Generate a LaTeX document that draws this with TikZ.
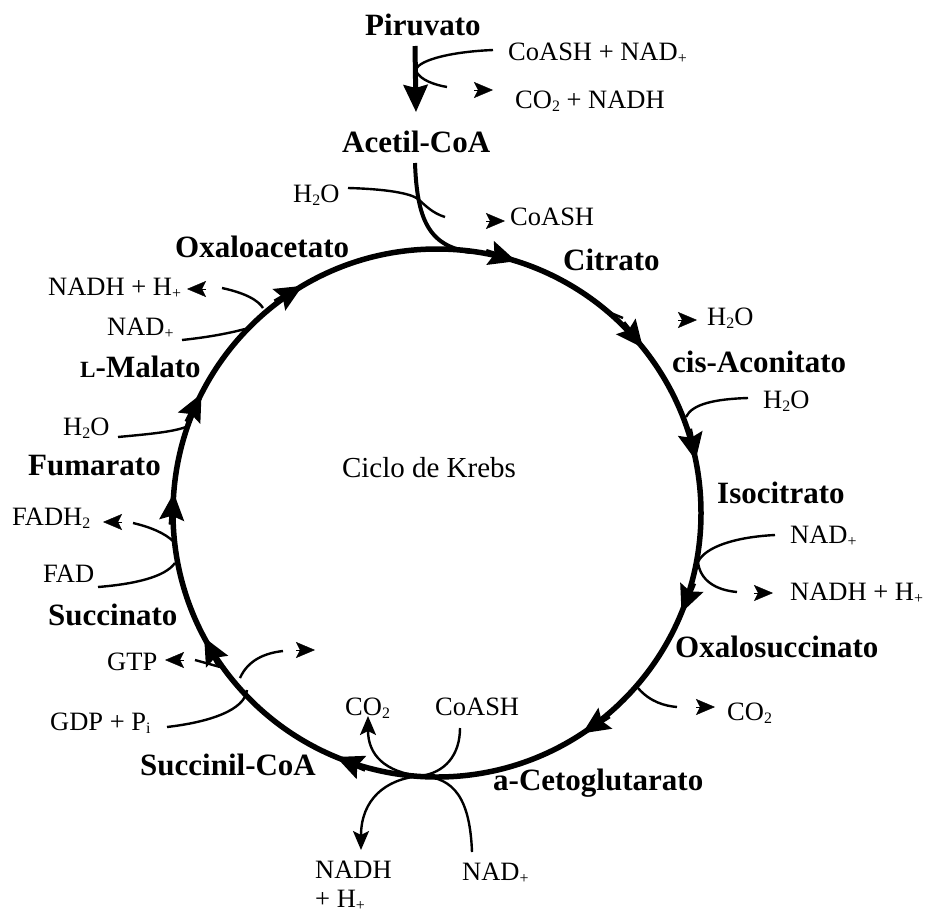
\documentclass[tikz,border=0pt]{standalone}
\usepackage{fontspec}
\setmainfont{Liberation Serif}
\usetikzlibrary{arrows.meta,calc}
\newcommand\lw[1]{\raisebox{-0.12em}{\scalebox{0.6}{#1}}}
\begin{document}
\begin{tikzpicture}[x=1pt,y=-1pt,
  bold/.style={font=\fontsize{31}{31}\selectfont\bfseries, inner sep=0pt, anchor=base west},
  reg/.style={font=\fontsize{26.5}{26.5}\selectfont, inner sep=0pt, anchor=base west},
  cyc/.style={line width=5.5pt},
  side/.style={line width=2.4pt},
  bigtip/.style={-{Stealth[length=27pt,width=24pt,inset=4pt]}},
  smalltip/.style={-{Stealth[length=19pt,width=16pt,inset=4pt]}},
]
\useasboundingbox (0,0) rectangle (926,913);

% metabolites
\node[bold] (pir)  at (365,35)  {Piruvato};
\node[bold] (ace)  at (342,152) {Acetil-CoA};
\node[bold] (oxa)  at (175,257) {Oxaloacetato};
\node[bold] (cit)  at (563,270) {Citrato};
\node[bold] (cis)  at (672,372) {cis-Aconitato};
\node[bold] (iso)  at (717,503) {Isocitrato};
\node[bold] (oxs)  at (675,657) {Oxalosuccinato};
\node[bold] (akg)  at (493,790) {a-Cetoglutarato};
\node[bold] (scoa) at (140,775) {Succinil-CoA};
\node[bold] (suc)  at (48,625)  {Succinato};
\node[bold] (fum)  at (28,475)  {Fumarato};
\node[bold] (mal)  at (80,377)  {\scalebox{0.75}{L}-Malato};
\node[font=\fontsize{29}{29}\selectfont, inner sep=0pt, anchor=base] (krebs) at (429,477) {Ciclo de Krebs};

% cofactors
\node[reg] (t1)  at (508,60)  {CoASH + NAD\lw{+}};
\node[reg] (t2)  at (515,108) {CO\lw{2} + NADH};
\node[reg] (t3)  at (293,202) {H\lw{2}O};
\node[reg] (t4)  at (510,225) {CoASH};
\node[reg] (t5)  at (48,295)  {NADH + H\lw{+}};
\node[reg] (t6)  at (107,335) {NAD\lw{+}};
\node[reg] (t7)  at (63,435)  {H\lw{2}O};
\node[reg] (t8)  at (707,325) {H\lw{2}O};
\node[reg] (t9)  at (763,408) {H\lw{2}O};
\node[reg] (t10) at (790,543) {NAD\lw{+}};
\node[reg] (t11) at (790,600) {NADH + H\lw{+}};
\node[reg] (t12) at (727,720) {CO\lw{2}};
\node[reg] (t13) at (12,525)  {FADH\lw{2}};
\node[reg] (t14) at (43,582)  {FAD};
\node[reg] (t15) at (107,670) {GTP};
\node[reg] (t16) at (50,730)  {GDP + P\lw{i}};
\node[reg] (t17) at (345,715) {CO\lw{2}};
\node[reg] (t18) at (435,715) {CoASH};
\node[reg] (t19) at (315,878) {NADH};
\node[reg] (t19b) at (315,907) {+ H\lw{+}};
\node[reg] (t20) at (462,880) {NAD\lw{+}};

% the cycle
\coordinate (C) at (437,513);
\draw[cyc] (C) circle[radius=264];
\foreach \a in {-72.5,-38.7,-11.5,22.2,56.6,112.5,151.9,184.4,206.9,239.4}
  \draw[cyc,bigtip] ($(C)+({264*cos(\a)+32*sin(\a)},{264*sin(\a)-32*cos(\a)})$)
     -- ($(C)+({264*cos(\a)},{264*sin(\a)})$);

% Piruvato -> Acetil-CoA
\coordinate (p1) at (415,46);
\coordinate (p2) at (416,112);
\draw[line width=5pt,-{Stealth[length=27pt,width=24pt,inset=3pt]}] (p1) -- (p2);
\coordinate (s1) at (493,50);
\coordinate (s2) at (447,87);
\draw[side] (s1) .. controls (445,52) and (415,62) .. (416,71) .. controls (420,80) and (435,85) .. (s2);
\draw[smalltip] (474,90) -- (493,90);

% Acetil-CoA -> cycle
\coordinate (a1) at (415,163);
\coordinate (a2) at (470,252);
\draw[line width=4pt] (a1) .. controls (417,218) and (428,246) .. (a2);
\coordinate (h1) at (348,188);
\coordinate (h2) at (445,217);
\draw[side] (h1) .. controls (385,189) and (410,193) .. (418,199) .. controls (425,205) and (432,213) .. (h2);
\draw[smalltip] (486,221) -- (505,221);

% Citrato -> cis-Aconitato
\draw[side] (611,313) -- (623,318);
\draw[smalltip] (678,320) -- (697,320);

% cis-Aconitato -> Isocitrato
\draw[side] (748,398) .. controls (715,399) and (692,404) .. (686,417);

% Isocitrato -> Oxalosuccinato
\draw[side] (775,535) .. controls (735,537) and (705,547) .. (698,562) .. controls (700,580) and (715,590) .. (737,592);
\draw[smalltip] (754,593) -- (773,593);

% Oxalosuccinato -> a-Cetoglutarato
\draw[side] (638,688) .. controls (650,702) and (665,706) .. (677,707);
\draw[smalltip] (696,707) -- (715,707);

% a-Cetoglutarato -> Succinil-CoA
\coordinate (k) at (420,776);
\draw[side] (460,728) .. controls (460,755) and (445,773) .. (k);
\draw[side] (472,852) .. controls (470,800) and (455,777) .. (k);
\draw[side,smalltip] (k) .. controls (385,772) and (368,755) .. (368,716);
\draw[side,smalltip] (k) .. controls (385,779) and (361,800) .. (361,850);

% Succinil-CoA -> Succinato
\draw[side] (167,727) .. controls (210,722) and (245,710) .. (247,690);
\draw[side] (240,678) .. controls (248,660) and (265,653) .. (283,651);
\draw[smalltip] (296,650) -- (315,650);
\draw[side] (220,667) -- (195,660);
\draw[smalltip] (184,660) -- (165,660);

% Succinato -> Fumarato
\draw[side] (98,587) .. controls (135,584) and (165,577) .. (175,563);
\draw[side] (174,542) .. controls (165,533) and (150,527) .. (133,523);
\draw[smalltip] (122,522) -- (103,522);

% Fumarato -> L-Malato
\draw[side] (118,437) .. controls (150,434) and (172,432) .. (186,427);

% L-Malato -> Oxaloacetato
\draw[side] (182,340) .. controls (210,337) and (230,333) .. (245,329);
\draw[side] (263,308) .. controls (258,300) and (245,293) .. (222,288);
\draw[smalltip] (206,289) -- (187,289);
\end{tikzpicture}
\end{document}
